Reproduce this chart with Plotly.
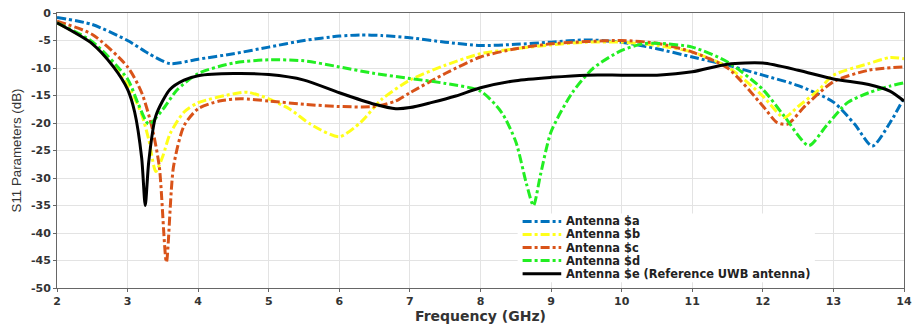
import plotly.graph_objects as go

# Antenna $a (blue)
xa = [2, 2.5, 3, 3.3, 3.6, 4, 4.5, 5, 5.5, 6, 6.3, 6.6, 7, 7.5, 8, 8.5, 9, 9.5, 10, 10.5, 11, 11.5, 12, 12.5, 13, 13.3, 13.55, 13.8, 14]
ya = [-0.8, -2.1, -5.0, -7.4, -9.2, -8.4, -7.4, -6.2, -5.0, -4.2, -4.0, -4.1, -4.5, -5.3, -5.9, -5.7, -5.3, -4.9, -5.3, -6.5, -8.0, -9.5, -11.3, -13.2, -16.2, -20.2, -24.2, -20.0, -15.4]

# Antenna $b (yellow)
xb = [2, 2.5, 3, 3.2, 3.3, 3.4, 3.5, 3.6, 3.8, 4, 4.5, 4.7, 5, 5.3, 5.6, 6, 6.3, 6.6, 7, 7.5, 8, 8.5, 9, 9.5, 10, 10.5, 11, 11.5, 12, 12.3, 12.5, 12.8, 13, 13.5, 13.8, 14]
yb = [-1.8, -5.5, -13.0, -18.5, -23.0, -28.8, -26.0, -22.0, -18.0, -16.3, -14.7, -14.4, -15.6, -17.5, -20.3, -22.5, -19.9, -15.7, -12.2, -9.5, -7.4, -6.5, -5.8, -5.3, -5.3, -5.9, -7.1, -9.8, -15.1, -19.0, -17.0, -13.9, -11.3, -9.2, -8.1, -8.3]

# Antenna $c (orange)
xc = [2, 2.5, 3, 3.2, 3.35, 3.45, 3.55, 3.65, 3.8, 4, 4.3, 4.6, 5, 5.5, 6, 6.5, 6.8, 7, 7.5, 8, 8.5, 9, 9.5, 10, 10.5, 11, 11.5, 12, 12.2, 12.35, 12.6, 13, 13.5, 14]
yc = [-1.5, -3.9, -9.8, -14.5, -21.0, -28.0, -45.3, -28.0, -20.5, -17.4, -16.0, -15.6, -16.0, -16.6, -17.0, -17.0, -16.0, -14.5, -11.0, -8.0, -6.5, -5.6, -5.2, -5.0, -5.5, -7.1, -10.0, -16.9, -19.9, -20.2, -16.9, -12.5, -10.4, -9.8]

# Antenna $d (green)
xd = [2, 2.5, 3, 3.15, 3.3, 3.5, 3.7, 4, 4.5, 5, 5.5, 6, 6.5, 7, 7.5, 8, 8.3, 8.5, 8.65, 8.75, 8.85, 9, 9.3, 9.6, 10, 10.3, 10.5, 11, 11.5, 12, 12.3, 12.65, 12.9, 13.2, 13.5, 13.8, 14]
yd = [-1.8, -5.2, -12.0, -16.5, -20.2, -17.5, -14.0, -11.0, -9.1, -8.5, -8.7, -9.8, -11.0, -11.9, -12.8, -14.2, -18.1, -23.4, -31.0, -35.0, -29.4, -21.6, -14.5, -10.0, -6.8, -5.6, -5.5, -6.2, -8.9, -13.9, -18.7, -24.1, -20.5, -16.3, -14.5, -13.3, -12.7]

# Antenna $e (black, reference)
xe = [2, 2.5, 2.8, 3, 3.1, 3.2, 3.25, 3.3, 3.4, 3.6, 3.8, 4, 4.5, 5, 5.5, 6, 6.5, 6.8, 7, 7.3, 7.65, 8, 8.5, 9, 9.5, 10, 10.5, 11, 11.5, 12, 12.5, 13, 13.5, 13.8, 14]
ye = [-1.8, -5.6, -9.8, -13.9, -18.0, -26.4, -35.0, -27.0, -18.7, -13.9, -12.2, -11.4, -11.0, -11.2, -12.2, -14.5, -16.6, -17.4, -17.2, -16.3, -15.1, -13.6, -12.3, -11.7, -11.3, -11.3, -11.3, -10.7, -9.3, -9.1, -10.4, -12.0, -13.0, -14.2, -16.0]

names = ["Antenna $a", "Antenna $b", "Antenna $c", "Antenna $d", "Antenna $e (Reference UWB antenna)"]
colors = ["#0072BD", "#FFFF1A", "#D95319", "#22EE22", "#000000"]
dashes = ["dashdot", "dashdot", "dashdot", "dashdot", "solid"]
xs = [xa, xb, xc, xd, xe]
ys = [ya, yb, yc, yd, ye]

fig = go.Figure()
for x, y, n, c, d in zip(xs, ys, names, colors, dashes):
    fig.add_trace(go.Scatter(x=x, y=y, name=n, mode="lines", showlegend=False,
                             line=dict(color=c, width=3, dash=d, shape="spline", smoothing=0.7)))

# Plot-area geometry (pixels) used to place the compact MATLAB-style legend
L, R, T, B = 57, 912, 7, 288
W, H = float(R - L), float(B - T)
def px(p):
    return (p - L) / W
def py(p):
    return (B - p) / H

fig.add_shape(type="rect", xref="paper", yref="paper",
              x0=px(522), x1=px(822), y0=py(282), y1=py(212),
              fillcolor="white", line=dict(width=0), layer="above")
rows = [220, 233.3, 246.7, 260, 273.5]
for n, c, d, r in zip(names, colors, dashes, rows):
    fig.add_shape(type="line", xref="paper", yref="paper",
                  x0=px(527), x1=px(566), y0=py(r), y1=py(r),
                  line=dict(color=c, width=3, dash=d), layer="above")
    fig.add_annotation(xref="paper", yref="paper", x=px(569), y=py(r),
                       xanchor="left", yanchor="middle", showarrow=False,
                       text="<b>%s</b>" % n,
                       font=dict(family="DejaVu Sans", size=11.4, color="#222222"))

tickfont = dict(family="DejaVu Sans", size=11, color="#333333")
fig.update_layout(
    width=919, height=328,
    margin=dict(l=L, r=919 - R, t=T, b=328 - B),
    paper_bgcolor="white", plot_bgcolor="white",
    font=dict(family="DejaVu Sans", color="#333333"),
    showlegend=False,
    xaxis=dict(range=[2, 14], showgrid=True, gridcolor="#E3E3E3", gridwidth=1,
               showline=True, linecolor="#666666", mirror=True, ticks="outside", ticklen=3,
               tickcolor="#666666", tickfont=tickfont, zeroline=False,
               tickvals=list(range(2, 15)), ticktext=["<b>%d</b>" % v for v in range(2, 15)],
               title=dict(text="<b>Frequency (GHz)</b>", font=dict(family="DejaVu Sans", size=14, color="#333333"), standoff=2)),
    yaxis=dict(range=[-50, 0], showgrid=True, gridcolor="#E3E3E3", gridwidth=1,
               showline=True, linecolor="#666666", mirror=True, ticks="outside", ticklen=3,
               tickcolor="#666666", tickfont=tickfont, zeroline=False,
               tickvals=list(range(-50, 1, 5)), ticktext=["<b>%d</b>" % v for v in range(-50, 1, 5)],
               title=dict(text="S11 Parameters (dB)", font=dict(family="Liberation Sans", size=13.3, color="#333333"), standoff=6)),
)

fig.write_html("out.html")
